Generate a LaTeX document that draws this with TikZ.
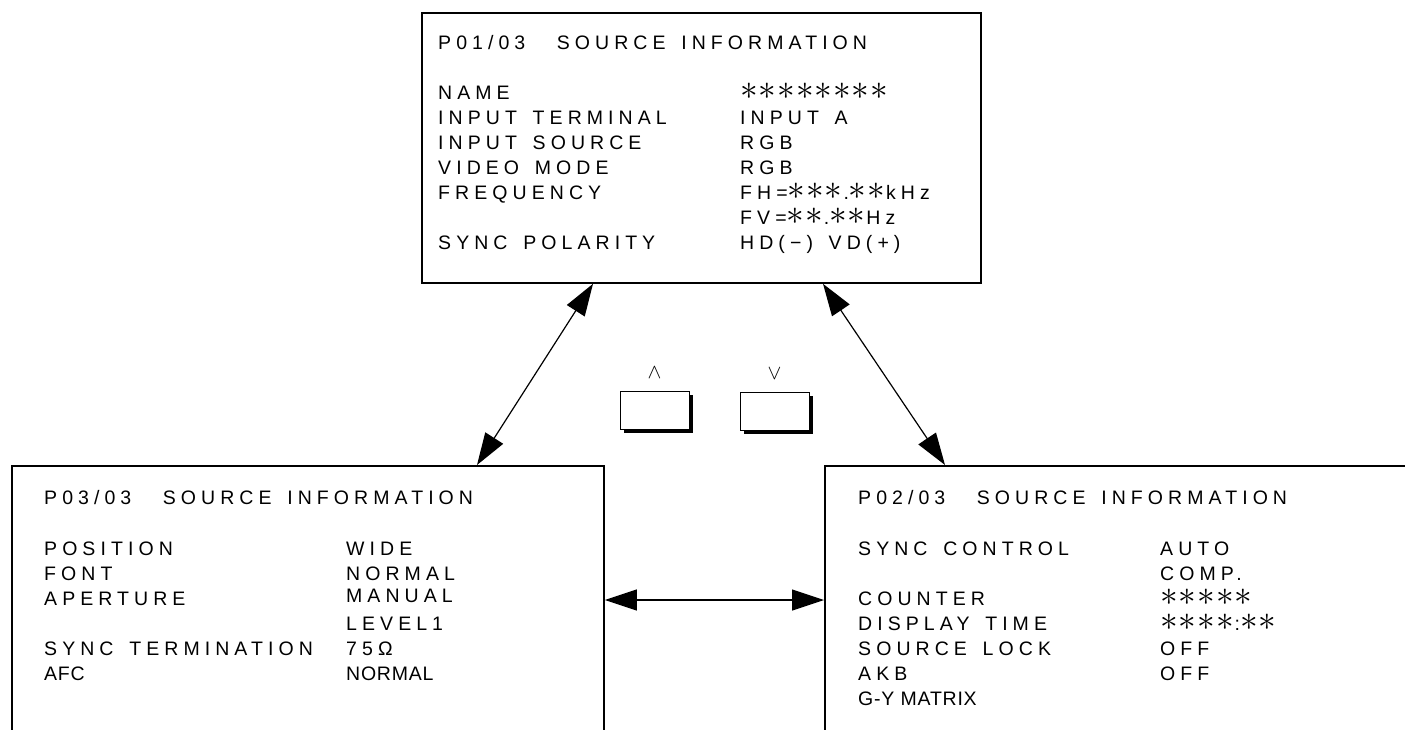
\documentclass[tikz,border=0pt]{standalone}
\usepackage{fontspec}
\usepackage{graphicx}
\newfontfamily\osdfont{Liberation Sans}[LetterSpace=26, WordSpace=1.5]
\newfontfamily\osdplain{Liberation Sans}[LetterSpace=4]
\usetikzlibrary{arrows.meta, positioning, shadows}
% one star of the on-screen display
\newcommand{\st}{\makebox[18.6pt][l]{\scalebox{1.7}{$\ast$}}}

\begin{document}
\begin{tikzpicture}[x=1pt, y=-1pt, >={Triangle[length=32pt, width=21pt]},
      screen/.style={draw, line width=1.8pt, anchor=north west, inner sep=0pt},
      txt/.style={anchor=base west, inner sep=0pt,
                  font=\osdfont\fontsize{19.5}{23}\selectfont},
      txtn/.style={anchor=base west, inner sep=0pt,
                   font=\osdplain\fontsize{19.5}{23}\selectfont},
      link/.style={<->, line width=1.2pt},
      keybox/.style={draw, fill=white, line width=1pt, minimum width=69pt,
                     minimum height=38pt, drop shadow={shadow xshift=3.5pt,
                     shadow yshift=-3.5pt, opacity=1, fill=black}},
      keylbl/.style={inner sep=0pt, font=\fontsize{19.5}{23}\selectfont}]

    \useasboundingbox (0,0) rectangle (1405,729);
    \clip (0,0) rectangle (1405,729);

    \def\rh{25.1}  % row spacing of the menu lines

    % the three screens (lower two run past the page edge)
    \node[screen, minimum width=559pt, minimum height=270pt] (p1) at (421,12) {};
    \node[screen, minimum width=592pt, minimum height=300pt] (p3) at (11,465) {};
    \node[screen, minimum width=620pt, minimum height=300pt] (p2) at (824,465) {};

    % page changes
    \draw[link] ([xshift=172pt]p1.south west) -- ([xshift=466pt]p3.north west);
    \draw[link] ([xshift=402pt]p1.south west) -- ([xshift=121pt]p2.north west);
    \draw[link] ([yshift=-135pt]p3.north east) -- ([yshift=-135pt]p2.north west);

    % up / down keys
    \node[keybox] (kup) at (654.5,410) {};
    \node[keybox] (kdn) at (774.5,411.5) {};
    \node[keylbl, above=12pt of kup] (lup) {$\wedge$};
    \node[keylbl, above=12pt of kdn] (ldn) {$\vee$};

    % Page 1
    \node[txt] (h1) at (438,49) {P01/03\ \ SOURCE INFORMATION};
    \node[txt] (a1) at (438,99)        {NAME};
    \node[txt] (b1) at (740,99)        {\st\st\st\st\st\st\st\st};
    \node[txt] (a2) at (438,99+\rh)    {INPUT TERMINAL};
    \node[txt] (b2) at (740,99+\rh)    {INPUT A};
    \node[txt] (a3) at (438,99+2*\rh)  {INPUT SOURCE};
    \node[txt] (b3) at (740,99+2*\rh)  {RGB};
    \node[txt] (a4) at (438,99+3*\rh)  {VIDEO MODE};
    \node[txt] (b4) at (740,99+3*\rh)  {RGB};
    \node[txt] (a5) at (438,99+4*\rh)  {FREQUENCY};
    \node[txt] (b5) at (740,99+4*\rh)  {FH=\st\st\st.\st\st kHz};
    \node[txt] (b6) at (740,99+5*\rh)  {FV=\st\st.\st\st Hz};
    \node[txt] (a7) at (438,99+6*\rh)  {SYNC POLARITY};
    \node[txt] (b7) at (740,99+6*\rh)  {HD(−) VD(+)};

    % Page 3
    \node[txt] (h3) at (44,504) {P03/03\ \ SOURCE INFORMATION};
    \node[txt] (c1) at (44,555)        {POSITION};
    \node[txt] (d1) at (346,555)       {WIDE};
    \node[txt] (c2) at (44,555+\rh)    {FONT};
    \node[txt] (d2) at (346,555+\rh)   {NORMAL};
    \node[txt] (c3) at (44,555+2*\rh)  {APERTURE};
    \node[txt] (d3) at (346,552+2*\rh) {MANUAL};
    \node[txt] (d4) at (346,555+3*\rh) {LEVEL1};
    \node[txt] (c5) at (44,555+4*\rh)  {SYNC TERMINATION};
    \node[txt] (d5) at (346,555+4*\rh) {75Ω};
    \node[txtn] (c6) at (44,555+5*\rh) {AFC};
    \node[txtn] (d6) at (346,555+5*\rh) {NORMAL};

    % Page 2
    \node[txt] (h2) at (858,504) {P02/03\ \ SOURCE INFORMATION};
    \node[txt] (e1) at (858,555)        {SYNC CONTROL};
    \node[txt] (f1) at (1160,555)       {AUTO};
    \node[txt] (f2) at (1160,555+\rh)   {COMP.};
    \node[txt] (e3) at (858,555+2*\rh)  {COUNTER};
    \node[txt] (f3) at (1160,555+2*\rh) {\st\st\st\st\st};
    \node[txt] (e4) at (858,555+3*\rh)  {DISPLAY TIME};
    \node[txt] (f4) at (1160,555+3*\rh) {\st\st\st\st:\st\st};
    \node[txt] (e5) at (858,555+4*\rh)  {SOURCE LOCK};
    \node[txt] (f5) at (1160,555+4*\rh) {OFF};
    \node[txt] (e6) at (858,555+5*\rh)  {AKB};
    \node[txt] (f6) at (1160,555+5*\rh) {OFF};
    \node[txtn] (e7) at (858,555+6*\rh) {G-Y MATRIX};

    \end{tikzpicture}
\end{document}
